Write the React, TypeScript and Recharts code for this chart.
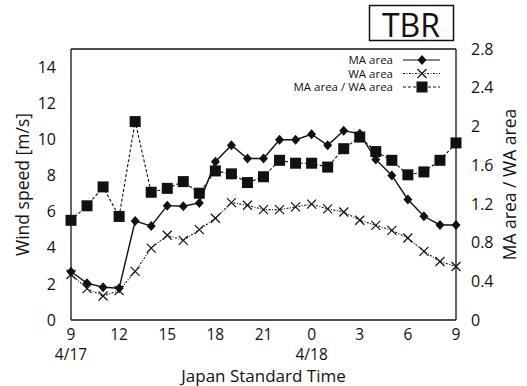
import React from "react";
import { LineChart, Line, XAxis, YAxis } from "recharts";

// hour of day for each sample (4/17 9:00 -> 4/18 9:00)
const hours = [9, 10, 11, 12, 13, 14, 15, 16, 17, 18, 19, 20, 21, 22, 23, 0, 1, 2, 3, 4, 5, 6, 7, 8, 9];
const maArea = [2.67, 2.04, 1.81, 1.76, 5.48, 5.2, 6.33, 6.3, 6.48, 8.76, 9.67, 8.94, 8.94, 9.98, 9.98, 10.28, 9.67, 10.48, 10.31, 8.89, 8.0, 6.67, 5.74, 5.26, 5.26];
const waArea = [2.52, 1.74, 1.33, 1.63, 2.69, 3.98, 4.69, 4.41, 5.0, 5.63, 6.5, 6.35, 6.11, 6.11, 6.26, 6.41, 6.15, 5.98, 5.52, 5.24, 4.96, 4.54, 3.8, 3.24, 2.96];
const ratio = [1.03, 1.18, 1.375, 1.07, 2.05, 1.32, 1.36, 1.43, 1.31, 1.54, 1.51, 1.42, 1.48, 1.65, 1.62, 1.62, 1.58, 1.77, 1.89, 1.74, 1.65, 1.5, 1.53, 1.65, 1.83];

const xTicks = [0, 3, 6, 9, 12, 15, 18, 21, 24];
const dateTicks: Record<number, string> = { 0: "4/17", 15: "4/18" };
const leftTicks = [0, 2, 4, 6, 8, 10, 12, 14];
const rightTicks = [0, 0.4, 0.8, 1.2, 1.6, 2, 2.4, 2.8];

const data = hours.map((h, i) => ({ i, h, ma: maArea[i], wa: waArea[i], ratio: ratio[i] }));

const FONT = "'Open Sans', sans-serif";
const INK = "#111";

function Diamond({ cx, cy }: any) {
  return <polygon points={`${cx},${cy - 5} ${cx + 4.5},${cy} ${cx},${cy + 5} ${cx - 4.5},${cy}`} fill={INK} />;
}

function Cross({ cx, cy }: any) {
  const s = 4.5;
  return (
    <g stroke={INK} strokeWidth={1.2}>
      <line x1={cx - s} y1={cy - s} x2={cx + s} y2={cy + s} />
      <line x1={cx - s} y1={cy + s} x2={cx + s} y2={cy - s} />
    </g>
  );
}

function Square({ cx, cy }: any) {
  return <rect x={cx - 5.5} y={cy - 5.5} width={11} height={11} fill={INK} />;
}

function XTick({ x, y, payload }: any) {
  const v = payload.value;
  return (
    <g fontFamily={FONT} fontSize={15.5} fill={INK}>
      <text x={x} y={y} dy={12} textAnchor="middle" fill={INK}>
        {hours[v]}
      </text>
      {dateTicks[v] && (
        <text x={x} y={y} dy={32} textAnchor="middle" fill={INK}>
          {dateTicks[v]}
        </text>
      )}
    </g>
  );
}

function Overlay() {
  const rows = [
    { label: "MA area", dash: undefined, mark: "d" },
    { label: "WA area", dash: "2 1.5 1 1.5", mark: "x" },
    { label: "MA area / WA area", dash: "3 2", mark: "s" },
  ];
  return (
    <svg width={527} height={386} style={{ position: "absolute", left: 0, top: 0, pointerEvents: "none" }}>
      <rect x={369.5} y={5.5} width={84} height={35} fill="white" stroke={INK} strokeWidth={1.5} />
      <text x={411} y={37} textAnchor="middle" fontFamily={FONT} fontSize={32} fill={INK}>
        TBR
      </text>
      {rows.map((r, k) => {
        const y = 60 + k * 13.5;
        return (
          <g key={r.label}>
            <text x={393} y={y + 4} textAnchor="end" fontFamily={FONT} fontSize={11.5} fill={INK}>
              {r.label}
            </text>
            <line x1={403} y1={y} x2={440} y2={y} stroke={INK} strokeWidth={1.1} strokeDasharray={r.dash} />
            {r.mark === "d" && <Diamond cx={422} cy={y} />}
            {r.mark === "x" && <Cross cx={422} cy={y} />}
            {r.mark === "s" && <Square cx={422} cy={y} />}
          </g>
        );
      })}
    </svg>
  );
}

export default function App() {
  const axisTick = { fill: INK, fontSize: 16, fontFamily: FONT };
  return (
    <div style={{ position: "absolute", left: 0, top: 0, width: 527, height: 386, background: "white" }}>
      <LineChart width={527} height={386} data={data} margin={{ top: 49, right: 0, bottom: 0, left: 0 }}>
        <XAxis
          xAxisId="b"
          dataKey="i"
          type="number"
          domain={[0, 24]}
          ticks={xTicks}
          height={66}
          tickLine={false}
          axisLine={{ stroke: INK, strokeWidth: 1.3 }}
          tick={<XTick />}
          tickMargin={2}
          label={{ value: "Japan Standard Time", position: "insideBottom", offset: 4, fill: INK, fontSize: 17, fontFamily: FONT }}
        />
        <XAxis xAxisId="bm" dataKey="i" type="number" domain={[0, 24]} ticks={xTicks} mirror orientation="bottom" tick={false} tickSize={5} axisLine={false} tickLine={{ stroke: INK }} />
        <XAxis xAxisId="tm" dataKey="i" type="number" domain={[0, 24]} ticks={xTicks} mirror orientation="top" tick={false} tickSize={5} axisLine={{ stroke: INK, strokeWidth: 1.3 }} tickLine={{ stroke: INK }} />
        <YAxis
          yAxisId="L"
          orientation="left"
          width={71}
          domain={[0, 15]}
          ticks={leftTicks}
          tickLine={false}
          tickMargin={9}
          axisLine={{ stroke: INK, strokeWidth: 1.3 }}
          tick={axisTick}
          label={{ value: "Wind speed [m/s]", angle: -90, position: "center", dx: -13, fill: INK, fontSize: 17.5, fontFamily: FONT }}
        />
        <YAxis yAxisId="Lm" orientation="left" mirror domain={[0, 15]} ticks={leftTicks} tick={false} tickSize={5} axisLine={false} tickLine={{ stroke: INK }} />
        <YAxis
          yAxisId="R"
          orientation="right"
          width={71}
          domain={[0, 2.8]}
          ticks={rightTicks}
          tickLine={false}
          tickMargin={9}
          axisLine={{ stroke: INK, strokeWidth: 1.3 }}
          tick={axisTick}
          tickFormatter={(v: number) => (v === 0 || v === 2 ? String(v) : v.toFixed(1))}
          label={{ value: "MA area / WA area", angle: -90, position: "center", dx: 18, fill: INK, fontSize: 17.5, fontFamily: FONT }}
        />
        <YAxis yAxisId="Rm" orientation="right" mirror domain={[0, 2.8]} ticks={rightTicks} tick={false} tickSize={5} axisLine={false} tickLine={{ stroke: INK }} />
        <Line xAxisId="b" yAxisId="L" dataKey="wa" stroke={INK} strokeWidth={1.1} strokeDasharray="2 1.5 1 1.5" dot={(p: any) => <Cross key={p.index} {...p} />} isAnimationActive={false} />
        <Line xAxisId="b" yAxisId="R" dataKey="ratio" stroke={INK} strokeWidth={1.1} strokeDasharray="3 2" dot={(p: any) => <Square key={p.index} {...p} />} isAnimationActive={false} />
        <Line xAxisId="b" yAxisId="L" dataKey="ma" stroke={INK} strokeWidth={1.4} dot={(p: any) => <Diamond key={p.index} {...p} />} isAnimationActive={false} />
      </LineChart>
      <Overlay />
    </div>
  );
}
